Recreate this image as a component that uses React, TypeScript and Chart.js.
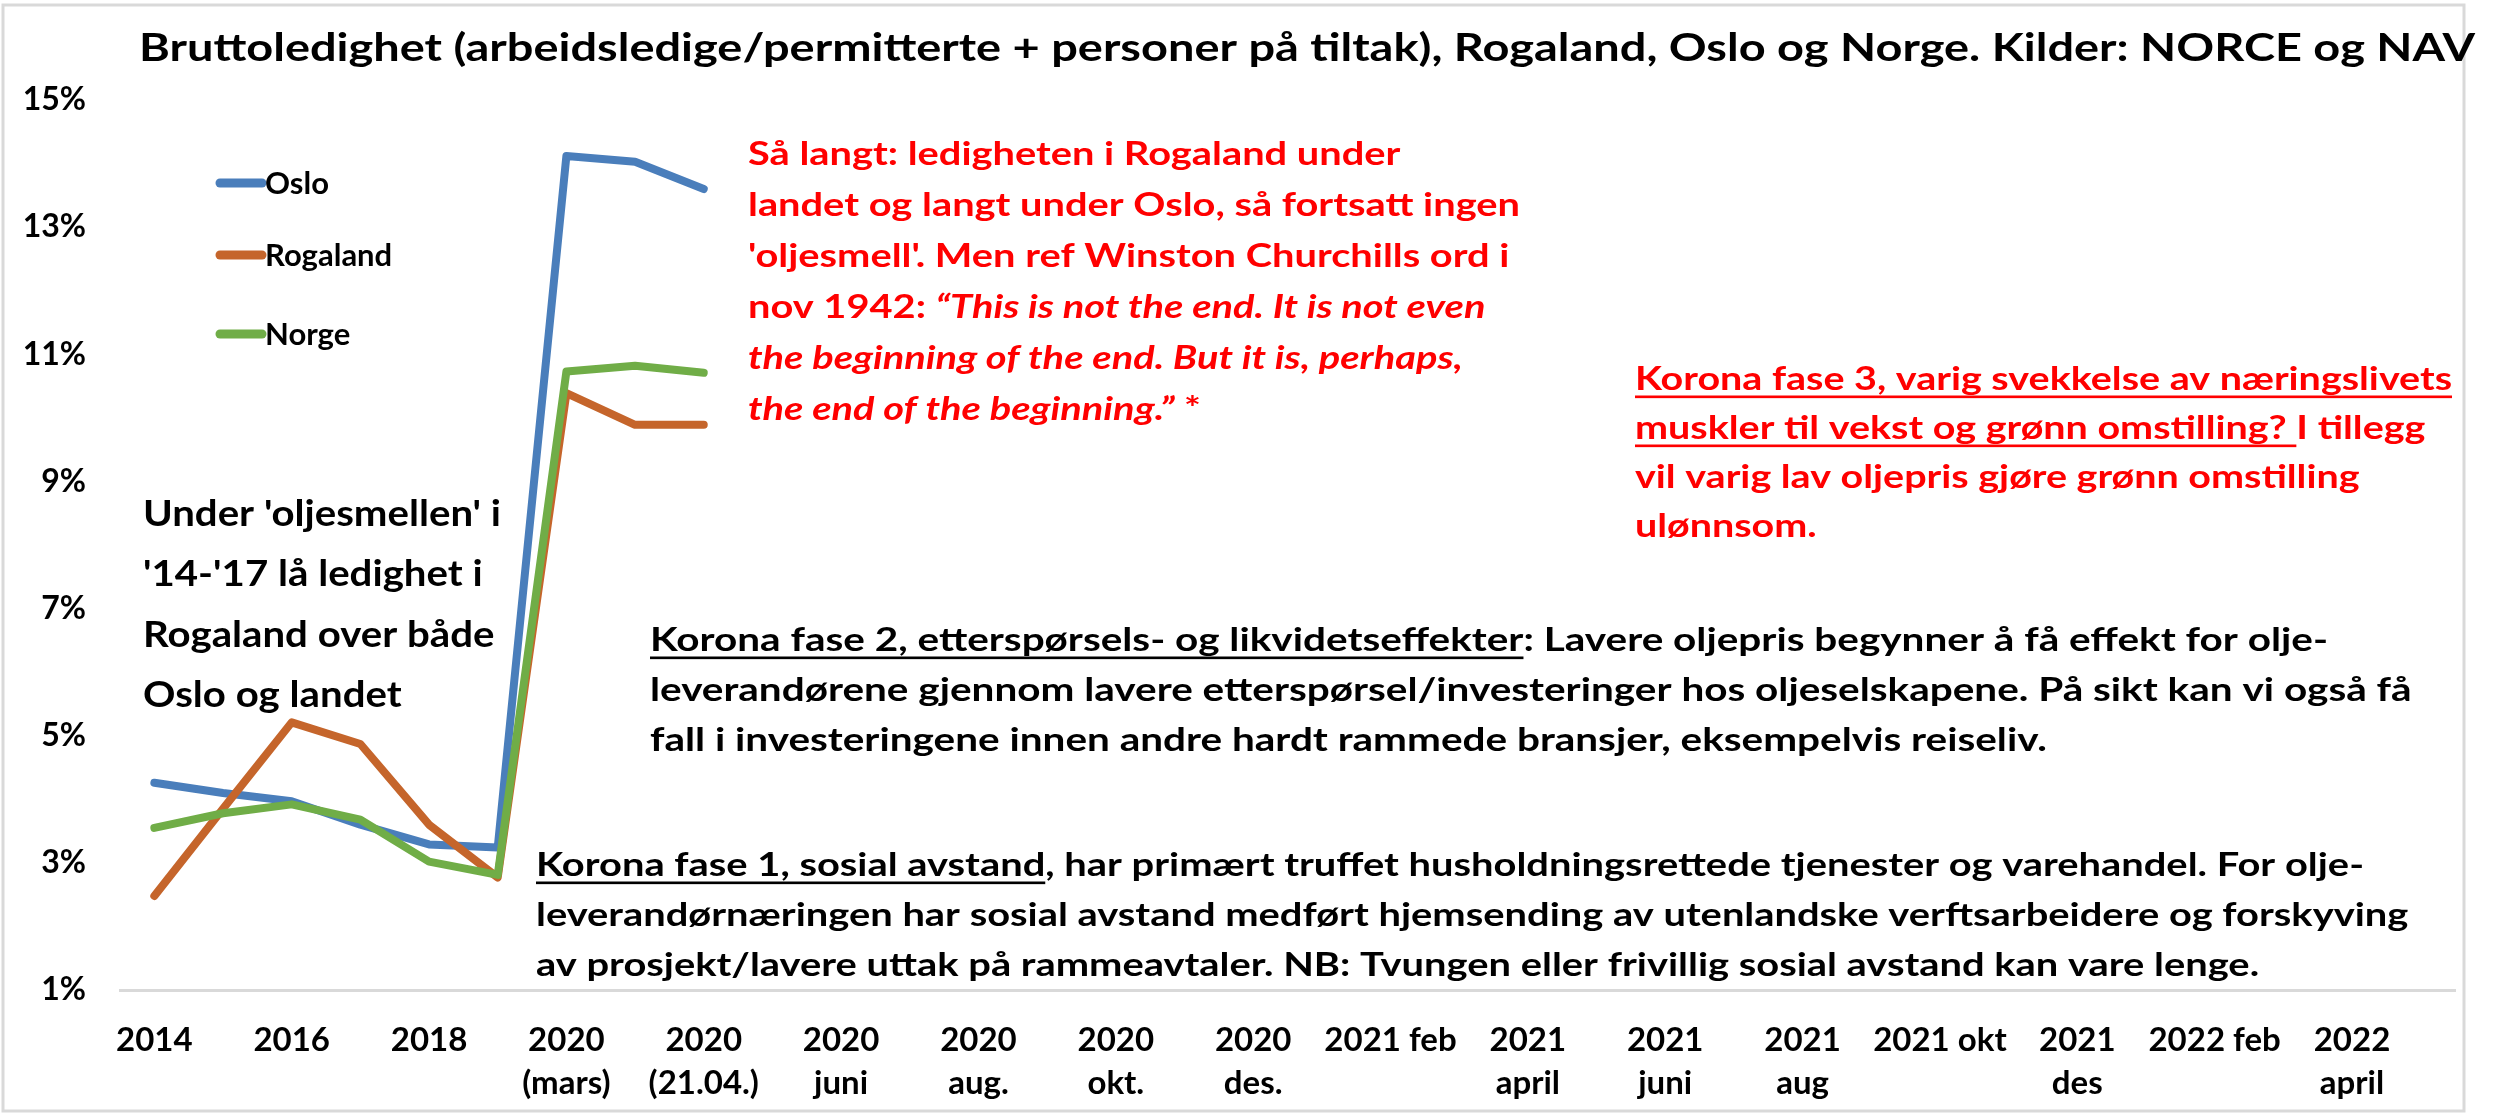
import React, { useEffect, useRef } from 'react';
import { Chart, registerables } from 'chart.js';

Chart.register(...registerables);

const W = 2496;
const H = 1115;
const FONT = 'Lato, "Noto Sans", "DejaVu Sans", sans-serif';

// ---- data ----
const xLabels: (string | string[])[] = [
  '2014', '', '2016', '', '2018', '',
  ['2020', '(mars)'], '', ['2020', '(21.04.)'], '',
  ['2020', 'juni'], '', ['2020', 'aug.'], '', ['2020', 'okt.'], '', ['2020', 'des.'], '',
  '2021 feb', '', ['2021', 'april'], '', ['2021', 'juni'], '', ['2021', 'aug'], '',
  '2021 okt', '', ['2021', 'des'], '', '2022 feb', '', ['2022', 'april'], '',
];
const osloValues = [4.26, 4.1, 3.97, 3.6, 3.29, 3.24, 14.12, 14.03, 13.6];
const rogalandValues = [2.48, 3.85, 5.21, 4.87, 3.6, 2.77, 10.39, 9.89, 9.89];
const norgeValues = [3.55, 3.78, 3.92, 3.68, 3.02, 2.81, 10.73, 10.82, 10.71];
const seriesNames = ['Oslo', 'Rogaland', 'Norge'];
const seriesColors = ['#4a7ebb', '#c5652b', '#70ad47'];
const yMin = 1;
const yMax = 15;
const yStep = 2;

const titleText =
  'Bruttoledighet (arbeidsledige/permitterte + personer på tiltak), Rogaland, Oslo og Norge. Kilder: NORCE og NAV';

type Seg = { t: string; i?: boolean; u?: boolean };
type Block = {
  x: number; y: number; lh: number; size: number; color: string;
  fitLine: number; fitWidth: number; lines: Seg[][];
};

const blockOlje: Block = {
  x: 143, y: 514, lh: 60.5, size: 36, color: '#000', fitLine: 0, fitWidth: 358,
  lines: [
    [{ t: "Under 'oljesmellen' i" }],
    [{ t: "'14-'17 lå ledighet i" }],
    [{ t: 'Rogaland over både' }],
    [{ t: 'Oslo og landet' }],
  ],
};

const blockChurchill: Block = {
  x: 748, y: 154, lh: 51, size: 33, color: '#ff0000', fitLine: 1, fitWidth: 772,
  lines: [
    [{ t: 'Så langt: ledigheten i Rogaland under' }],
    [{ t: 'landet og langt under Oslo, så fortsatt ingen' }],
    [{ t: "'oljesmell'. Men ref Winston Churchills ord i" }],
    [{ t: 'nov 1942: ' }, { t: '“This is not the end. It is not even', i: true }],
    [{ t: 'the beginning of the end. But it is, perhaps,', i: true }],
    [{ t: 'the end of the beginning.”', i: true }, { t: ' *' }],
  ],
};

const blockFase3: Block = {
  x: 1635, y: 379, lh: 49, size: 33, color: '#ff0000', fitLine: 0, fitWidth: 817,
  lines: [
    [{ t: 'Korona fase 3, varig svekkelse av næringslivets', u: true }],
    [{ t: 'muskler til vekst og grønn omstilling? ', u: true }, { t: 'I tillegg' }],
    [{ t: 'vil varig lav oljepris gjøre grønn omstilling' }],
    [{ t: 'ulønnsom.' }],
  ],
};

const blockFase2: Block = {
  x: 650, y: 640, lh: 50, size: 33, color: '#000', fitLine: 0, fitWidth: 1678,
  lines: [
    [{ t: 'Korona fase 2, etterspørsels- og likvidetseffekter', u: true }, { t: ': Lavere oljepris begynner å få effekt for olje-' }],
    [{ t: 'leverandørene gjennom lavere etterspørsel/investeringer hos oljeselskapene. På sikt kan vi også få' }],
    [{ t: 'fall i investeringene innen andre hardt rammede bransjer, eksempelvis reiseliv.' }],
  ],
};

const blockFase1: Block = {
  x: 536, y: 865, lh: 50, size: 33, color: '#000', fitLine: 0, fitWidth: 1828,
  lines: [
    [{ t: 'Korona fase 1, sosial avstand', u: true }, { t: ', har primært truffet husholdningsrettede tjenester og varehandel. For olje-' }],
    [{ t: 'leverandørnæringen har sosial avstand medført hjemsending av utenlandske verftsarbeidere og forskyving' }],
    [{ t: 'av prosjekt/lavere uttak på rammeavtaler. NB: Tvungen eller frivillig sosial avstand kan vare lenge.' }],
  ],
};

const textBlocks = [blockOlje, blockChurchill, blockFase3, blockFase2, blockFase1];

function segFont(s: Seg, size: number) {
  return `${s.i ? 'italic ' : ''}bold ${size}px ${FONT}`;
}

function drawBlock(ctx: CanvasRenderingContext2D, b: Block) {
  let w = 0;
  for (const s of b.lines[b.fitLine]) {
    ctx.font = segFont(s, b.size);
    w += ctx.measureText(s.t).width;
  }
  const sx = b.fitWidth / w;
  ctx.fillStyle = b.color;
  ctx.textBaseline = 'middle';
  ctx.textAlign = 'left';
  b.lines.forEach((line, k) => {
    ctx.save();
    ctx.translate(b.x, b.y + k * b.lh);
    ctx.scale(sx, 1);
    let cx = 0;
    for (const s of line) {
      ctx.font = segFont(s, b.size);
      const sw = ctx.measureText(s.t).width;
      ctx.fillText(s.t, cx, 0);
      if (s.u) ctx.fillRect(cx, b.size * 0.5, sw, Math.max(2, b.size * 0.08));
      cx += sw;
    }
    ctx.restore();
  });
}

const overlayPlugin = {
  id: 'overlay',
  afterDraw(chart: any) {
    const ctx: CanvasRenderingContext2D = chart.ctx;
    ctx.save();
    // frame
    ctx.strokeStyle = '#d9d9d9';
    ctx.lineWidth = 3;
    ctx.strokeRect(3, 5, 2461, 1106);

    // title
    ctx.font = `bold 39px ${FONT}`;
    ctx.fillStyle = '#000';
    ctx.textBaseline = 'middle';
    ctx.textAlign = 'left';
    const tw = ctx.measureText(titleText).width;
    const tsx = 2336 / tw;
    ctx.save();
    ctx.translate(139, 48);
    ctx.scale(tsx, 1);
    ctx.fillText(titleText, 0, 0);
    ctx.restore();

    // legend
    const legY = [183, 255, 334];
    seriesNames.forEach((name, i) => {
      ctx.strokeStyle = seriesColors[i];
      ctx.lineWidth = 9;
      ctx.lineCap = 'round';
      ctx.beginPath();
      ctx.moveTo(220, legY[i]);
      ctx.lineTo(262, legY[i]);
      ctx.stroke();
      ctx.font = `bold 31px ${FONT}`;
      ctx.fillStyle = '#000';
      ctx.textBaseline = 'middle';
      ctx.fillText(name, 265, legY[i] + 1);
    });

    textBlocks.forEach((b) => drawBlock(ctx, b));
    ctx.restore();
  },
};

export default function App() {
  const ref = useRef<HTMLCanvasElement | null>(null);
  useEffect(() => {
    document.body.style.margin = '0';
    document.body.style.overflow = 'hidden';
    const canvas = ref.current;
    if (!canvas) return;
    const mk = (i: number, data: number[], order: number) => ({
      label: seriesNames[i],
      data,
      borderColor: seriesColors[i],
      backgroundColor: seriesColors[i],
      borderWidth: 8,
      borderCapStyle: 'round' as const,
      borderJoinStyle: 'round' as const,
      pointRadius: 0,
      tension: 0,
      order,
    });
    const chart = new Chart(canvas, {
      type: 'line',
      data: {
        labels: xLabels as any,
        datasets: [mk(0, osloValues, 2), mk(1, rogalandValues, 1), mk(2, norgeValues, 0)],
      },
      options: {
        responsive: false,
        animation: false,
        devicePixelRatio: 1,
        layout: { padding: { top: 100, right: 41, left: 0, bottom: 0 } },
        plugins: { legend: { display: false }, title: { display: false }, tooltip: { enabled: false } },
        scales: {
          x: {
            type: 'category',
            offset: true,
            grid: { display: false, drawTicks: false },
            border: { display: true, color: '#d9d9d9', width: 3 },
            ticks: {
              autoSkip: false,
              maxRotation: 0,
              minRotation: 0,
              padding: 28,
              color: '#000',
              font: { family: FONT, size: 33, weight: 'bold', lineHeight: 1.33 },
            },
            afterFit: (s: any) => { s.height = 125; },
          },
          y: {
            min: yMin,
            max: yMax,
            grid: { display: false, drawTicks: false },
            border: { display: false },
            ticks: {
              stepSize: yStep,
              padding: 34,
              color: '#000',
              font: { family: FONT, size: 32, weight: 'bold' },
              callback: (v: any) => `${v}%`,
            },
            afterFit: (s: any) => { s.width = 120; },
          },
        },
      } as any,
      plugins: [overlayPlugin],
    });
    return () => chart.destroy();
  }, []);
  return (
    <div style={{ width: W, height: H }}>
      <canvas ref={ref} width={W} height={H} style={{ display: 'block' }} />
    </div>
  );
}
